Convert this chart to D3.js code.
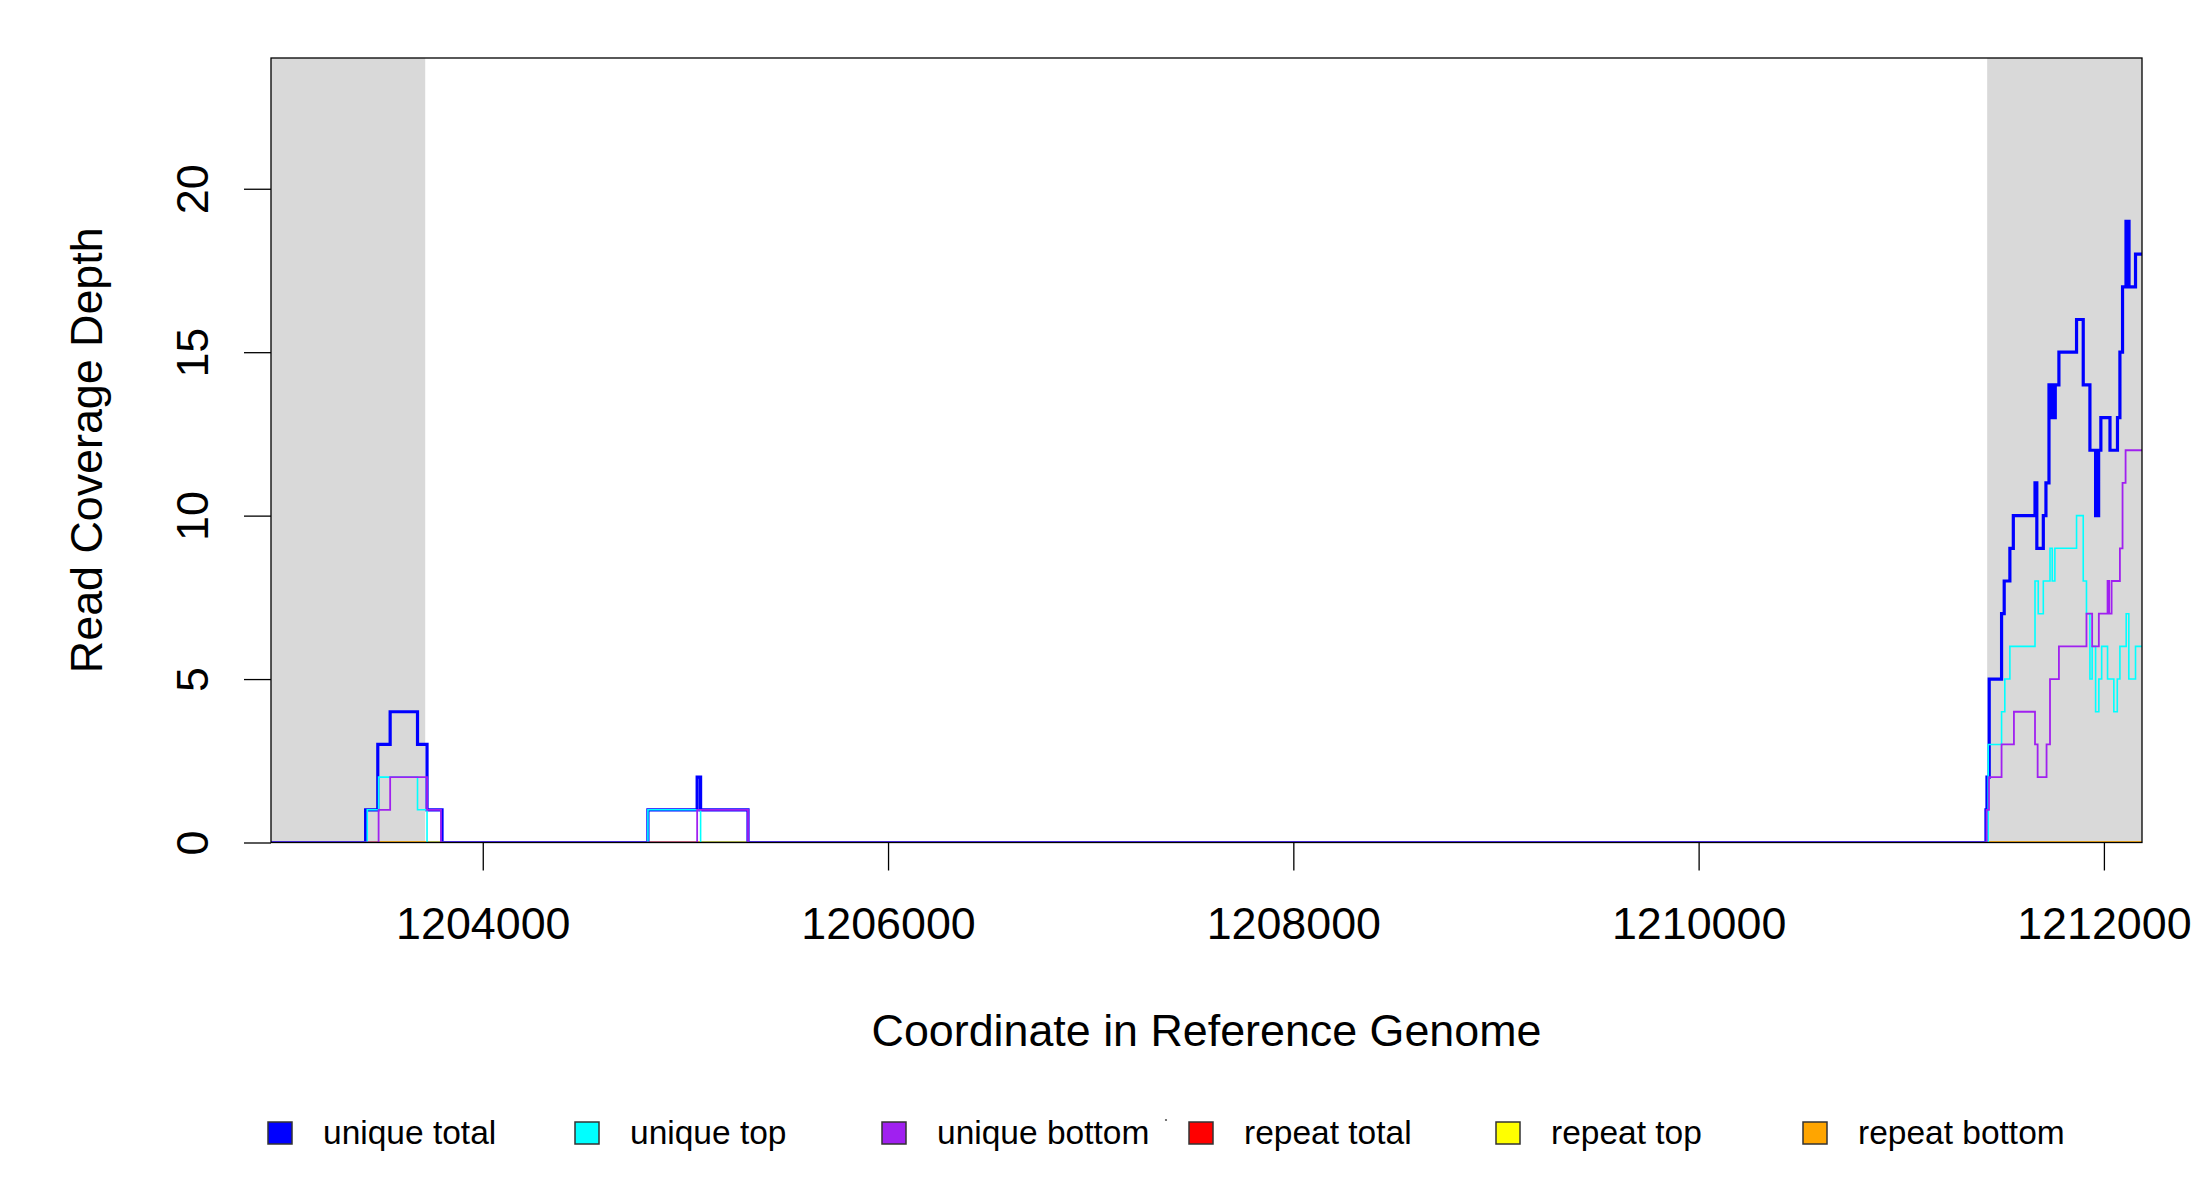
<!DOCTYPE html>
<html lang="en">
<head>
<meta charset="UTF-8">
<title>Read Coverage Depth</title>
<script src="https://d3js.org/d3.v7.min.js"></script>
<style>
    body { margin: 0; background: #fff; }
    svg { display: block; font-family: "Liberation Sans", Arial, sans-serif; }
</style>
</head>
<body>
<div id="chart"></div>
<script>
    // coverage change points: [coordinate, depth from that coordinate on]
    const uniqueTotal = [
        [1203422, 1], [1203482, 3], [1203543, 4], [1203678, 3], [1203725, 1], [1203799, 0],
        [1204815, 1], [1205058, 2], [1205075, 1], [1205309, 0],
        [1211418, 1], [1211423, 2], [1211434, 5], [1211495, 7], [1211508, 8], [1211536, 9], [1211553, 10],
        [1211660, 11], [1211663, 10], [1211666, 11], [1211669, 9], [1211701, 10], [1211714, 11],
        [1211729, 14], [1211733, 13], [1211736, 14], [1211739, 13], [1211742, 14], [1211745, 13],
        [1211748, 14], [1211751, 13], [1211754, 14], [1211757, 13], [1211760, 14],
        [1211778, 15], [1211865, 16], [1211898, 14], [1211931, 12],
        [1211959, 10], [1211962, 12], [1211965, 10], [1211968, 12], [1211971, 10], [1211974, 12],
        [1211985, 13], [1212030, 12], [1212067, 13], [1212079, 15], [1212092, 17],
        [1212109, 19], [1212112, 17], [1212115, 19], [1212118, 17], [1212121, 19], [1212124, 17],
        [1212156, 18]
    ];
    const uniqueTop = [
        [1203430, 1], [1203486, 2], [1203678, 1], [1203725, 0],
        [1204815, 1], [1205075, 0],
        [1211429, 3], [1211495, 4], [1211511, 5], [1211536, 6], [1211660, 8], [1211676, 7],
        [1211701, 8], [1211734, 9], [1211745, 8], [1211758, 9], [1211865, 10], [1211898, 8],
        [1211914, 7], [1211931, 5], [1211942, 6], [1211959, 4], [1211975, 5], [1211989, 6],
        [1212018, 5], [1212049, 4], [1212066, 5], [1212079, 6], [1212110, 7], [1212123, 5],
        [1212156, 6]
    ];
    const uniqueBottom = [
        [1203486, 1], [1203543, 2], [1203725, 1], [1203794, 0],
        [1205058, 1], [1205309, 0],
        [1211421, 1], [1211433, 2], [1211495, 3], [1211556, 4], [1211660, 3], [1211673, 2],
        [1211717, 3], [1211734, 5], [1211778, 6], [1211914, 7], [1211942, 6], [1211975, 7],
        [1212018, 8], [1212026, 7], [1212038, 8], [1212079, 9], [1212092, 11], [1212107, 12]
    ];
    const repeatTotal = [];
    const repeatTop = [];
    const repeatBottom = [];

    const seriesNames = ["unique total", "unique top", "unique bottom", "repeat total", "repeat top", "repeat bottom"];
    const seriesColors = ["#0000ff", "#00ffff", "#a020f0", "#ff0000", "#ffff00", "#ffa500"];
    const shadedRegions = [[1202955, 1203716], [1211424, 1212188]];
    const xTicks = [1204000, 1206000, 1208000, 1210000, 1212000];
    const yTicks = [0, 5, 10, 15, 20];
    const xDomain = [1202955, 1212188];
    const yDomain = [0, 24];

    const width = 2200, height = 1200;
    const plot = { left: 271, right: 2142, top: 58, bottom: 842.5 };
    const axisFont = "44.8px";

    const svg = d3.select("#chart").append("svg")
        .attr("width", width)
        .attr("height", height);

    const x = d3.scaleLinear().domain(xDomain).range([plot.left, plot.right]);
    const y = d3.scaleLinear().domain(yDomain).range([plot.bottom, plot.top]);

    svg.append("clipPath").attr("id", "plot-clip")
        .append("rect")
        .attr("x", plot.left).attr("y", plot.top)
        .attr("width", plot.right - plot.left).attr("height", plot.bottom - plot.top);

    // grey flanks
    svg.append("g").selectAll("rect")
        .data(shadedRegions)
        .join("rect")
        .attr("x", d => x(d[0]))
        .attr("y", plot.top)
        .attr("width", d => x(d[1]) - x(d[0]))
        .attr("height", plot.bottom - plot.top)
        .attr("fill", "#d9d9d9");

    const series = [uniqueTotal, uniqueTop, uniqueBottom, repeatTotal, repeatTop, repeatBottom];
    const lineWidths = [3.2, 1.6, 1.8, 2, 2, 2];
    // repeats underneath, uniques on top
    const drawOrder = [3, 4, 5, 0, 1, 2];

    const step = d3.line()
        .x(d => x(d[0]))
        .y(d => y(d[1]))
        .curve(d3.curveStepAfter);

    function stepPoints(changes) {
        const pts = [[xDomain[0] - 200, 0]].concat(changes);
        const last = pts[pts.length - 1][1];
        pts.push([xDomain[1] + 200, last]);
        return pts;
    }

    const lines = svg.append("g").attr("clip-path", "url(#plot-clip)");
    drawOrder.forEach(i => {
        lines.append("path")
            .attr("d", step(stepPoints(series[i])))
            .attr("fill", "none")
            .attr("stroke", seriesColors[i])
            .attr("stroke-width", lineWidths[i])
            .attr("stroke-linejoin", "miter");
    });

    // box
    svg.append("rect")
        .attr("x", plot.left).attr("y", plot.top)
        .attr("width", plot.right - plot.left).attr("height", plot.bottom - plot.top)
        .attr("fill", "none")
        .attr("stroke", "#000")
        .attr("stroke-width", 1.3);

    // axes
    const xAxis = svg.append("g")
        .attr("transform", `translate(0,${plot.bottom})`)
        .call(d3.axisBottom(x).tickValues(xTicks).tickFormat(d3.format("d")).tickSize(28).tickSizeOuter(0));
    xAxis.select(".domain").remove();
    xAxis.selectAll("line").attr("stroke", "#000").attr("stroke-width", 1.3);
    xAxis.selectAll("text")
        .attr("y", 96).attr("dy", 0)
        .attr("fill", "#000")
        .attr("font-size", axisFont)
        .attr("font-family", "Liberation Sans, Arial, sans-serif");

    const yAxis = svg.append("g")
        .attr("transform", `translate(${plot.left},0)`)
        .call(d3.axisLeft(y).tickValues(yTicks).tickSize(27).tickSizeOuter(0));
    yAxis.select(".domain").remove();
    yAxis.selectAll("line").attr("stroke", "#000").attr("stroke-width", 1.3);
    yAxis.selectAll("text")
        .attr("x", 0).attr("dy", 0)
        .attr("transform", "translate(-63,0) rotate(-90)")
        .attr("text-anchor", "middle")
        .attr("fill", "#000")
        .attr("font-size", axisFont)
        .attr("font-family", "Liberation Sans, Arial, sans-serif");

    // axis titles
    svg.append("text")
        .attr("x", (plot.left + plot.right) / 2)
        .attr("y", 1046)
        .attr("text-anchor", "middle")
        .attr("font-size", axisFont)
        .text("Coordinate in Reference Genome");

    svg.append("text")
        .attr("transform", `translate(102,${(plot.top + plot.bottom) / 2}) rotate(-90)`)
        .attr("text-anchor", "middle")
        .attr("font-size", axisFont)
        .text("Read Coverage Depth");

    // legend
    const legend = svg.append("g")
        .selectAll("g")
        .data(seriesNames)
        .join("g")
        .attr("transform", (d, i) => `translate(${268 + i * 307},1122)`);

    legend.append("rect")
        .attr("width", 24)
        .attr("height", 22)
        .attr("fill", (d, i) => seriesColors[i])
        .attr("stroke", "#333")
        .attr("stroke-width", 1.5);

    legend.append("text")
        .attr("x", 55)
        .attr("y", 22)
        .attr("font-size", "33.5px")
        .text(d => d);

    // stray speck between legend entries
    svg.append("circle")
        .attr("cx", 1166).attr("cy", 1120)
        .attr("r", 1.1)
        .attr("fill", "#555");
</script>
</body>
</html>
